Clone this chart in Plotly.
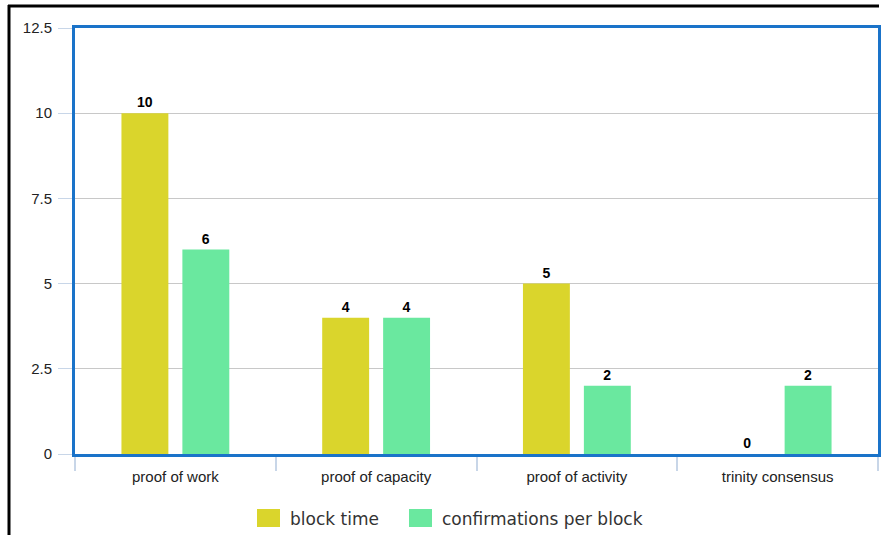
import plotly.graph_objects as go

categories = ["proof of work", "proof of capacity", "proof of activity", "trinity consensus"]
block_time = [10, 4, 5, 0]
confirmations = [6, 4, 2, 2]
y_ticks = [0, 2.5, 5, 7.5, 10, 12.5]
y_tick_text = ["0", "2.5", "5", "7.5", "10", "12.5"]
series_names = ["block time", "confirmations per block"]
series_colors = ["#DAD52C", "#6AE89F"]

W, H = 884, 535
ML, MR, MT, MB = 75, 6, 28, 81
PW, PH = W - ML - MR, H - MT - MB


def px_x(px):
    return (px - ML) / PW


def px_y(py):
    return (H - MB - py) / PH


label_font = dict(family="Liberation Sans, Arial, sans-serif", size=14, color="#000000")

fig = go.Figure()
for name, vals, col in zip(series_names, [block_time, confirmations], series_colors):
    fig.add_trace(go.Bar(
        name=name, x=categories, y=vals,
        marker=dict(color=col, line=dict(width=0)),
        texttemplate="<b>%{y}</b>", textposition="outside", textfont=label_font,
        cliponaxis=False, showlegend=False,
    ))

# outer container edges (left and top)
fig.add_shape(type="line", xref="paper", yref="paper",
              x0=px_x(9), x1=px_x(9), y0=px_y(540), y1=px_y(5),
              line=dict(color="#000000", width=3))
fig.add_shape(type="line", xref="paper", yref="paper",
              x0=px_x(8), x1=px_x(879), y0=px_y(6), y1=px_y(6),
              line=dict(color="#000000", width=3))

# legend: swatches and labels below the plot
legend_items = [(257, 288), (409, 440)]
for (sx, tx), name, col in zip(legend_items, series_names, series_colors):
    fig.add_shape(type="rect", xref="paper", yref="paper",
                  x0=px_x(sx), x1=px_x(sx + 23), y0=px_y(527), y1=px_y(509),
                  fillcolor=col, line=dict(width=0))
    fig.add_annotation(xref="paper", yref="paper", x=px_x(tx), y=px_y(519),
                       xanchor="left", yanchor="middle", showarrow=False, text=name,
                       font=dict(family="DejaVu Sans, sans-serif", size=17, color="#333333"))

fig.update_layout(
    width=W, height=H,
    margin=dict(l=ML, r=MR, t=MT, b=MB, pad=0, autoexpand=False),
    paper_bgcolor="#ffffff", plot_bgcolor="#ffffff",
    barmode="group", bargap=0.393, bargroupgap=0.23,
    font=dict(family="Liberation Sans, Arial, sans-serif", size=15, color="#222222"),
    showlegend=False,
    xaxis=dict(
        showline=True, linecolor="#1A73C9", linewidth=3, mirror=True,
        ticks="outside", tickson="boundaries", ticklen=14, tickcolor="#C8D6E8", tickwidth=2,
        showgrid=False, tickfont=dict(size=15, color="#222222"), ticklabelstandoff=7,
    ),
    yaxis=dict(
        range=[0, 12.5], tickvals=y_ticks, ticktext=y_tick_text,
        showline=True, linecolor="#1A73C9", linewidth=3, mirror=True,
        ticks="outside", ticklen=14, tickcolor="#C8D6E8", tickwidth=1,
        showgrid=True, gridcolor="#C8C8C8", gridwidth=1,
        zeroline=False, tickfont=dict(size=15, color="#222222"), ticklabelstandoff=3,
    ),
)

fig.write_html("out.html")
